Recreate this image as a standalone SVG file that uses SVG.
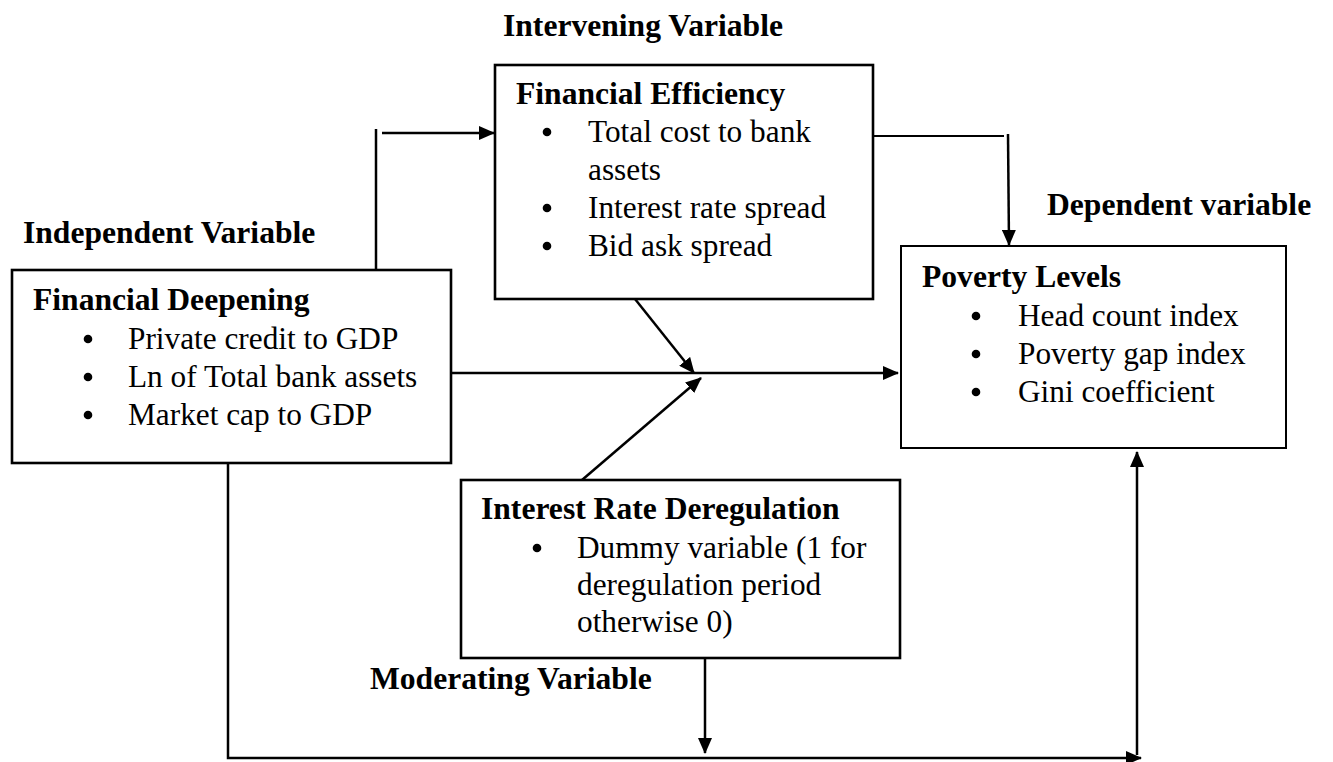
<svg xmlns="http://www.w3.org/2000/svg" width="1333" height="762" viewBox="0 0 1333 762">
<style>
  .box{fill:#fff;stroke:#000;stroke-width:2.6}
  .thin{stroke-width:2}
  .t{font-family:"Liberation Serif","Times New Roman",serif;font-size:31.3px;fill:#000}
  .b{font-family:"Liberation Serif","Times New Roman",serif;font-size:31.6px;font-weight:bold;fill:#000}
  .c{fill:none;stroke:#000;stroke-width:2.5}
  .dot{fill:#000}
</style>
<defs>
  <marker id="ah" markerWidth="16" markerHeight="14" refX="15" refY="7" orient="auto" markerUnits="userSpaceOnUse">
    <path d="M0,0 L16,7 L0,14 Z" fill="#000"/>
  </marker>
</defs>
<rect width="1333" height="762" fill="#fff"/>

<g id="labels">
  <text class="b" x="503" y="36">Intervening Variable</text>
  <text class="b" x="23" y="243">Independent Variable</text>
  <text class="b" x="1047" y="215">Dependent variable</text>
  <text class="b" x="370" y="689">Moderating Variable</text>
</g>

<g id="connectors">
  <line class="c" x1="376" y1="270" x2="376" y2="129"/>
  <line class="c" x1="382" y1="133" x2="494" y2="133" marker-end="url(#ah)"/>
  <line class="c" x1="873" y1="136" x2="1004" y2="136" style="stroke-width:2"/>
  <line class="c" x1="1008" y1="134" x2="1009" y2="245" marker-end="url(#ah)"/>
  <line class="c" x1="446" y1="373" x2="898" y2="373" marker-end="url(#ah)"/>
  <line class="c" x1="635" y1="299" x2="694" y2="373" marker-end="url(#ah)"/>
  <line class="c" x1="582" y1="480" x2="701" y2="378" marker-end="url(#ah)"/>
  <polyline class="c" points="228,463 228,758 1141,758" marker-end="url(#ah)"/>
  <line class="c" x1="1137" y1="755" x2="1137" y2="452" marker-end="url(#ah)"/>
  <line class="c" x1="705" y1="658" x2="705" y2="753" marker-end="url(#ah)"/>
</g>

<g id="financial-deepening">
  <rect class="box" x="12" y="270" width="439" height="193"/>
  <text class="b" x="33" y="310">Financial Deepening</text>
  <circle class="dot" cx="88" cy="339" r="4.3"/>
  <text class="t" x="128" y="349">Private credit to GDP</text>
  <circle class="dot" cx="88" cy="377" r="4.3"/>
  <text class="t" x="128" y="387">Ln of Total bank assets</text>
  <circle class="dot" cx="88" cy="415" r="4.3"/>
  <text class="t" x="128" y="425">Market cap to GDP</text>
</g>

<g id="financial-efficiency">
  <rect class="box" x="495" y="65" width="378" height="234"/>
  <text class="b" x="516" y="104">Financial Efficiency</text>
  <circle class="dot" cx="547" cy="132" r="4.3"/>
  <text class="t" x="588" y="142">Total cost to bank</text>
  <text class="t" x="588" y="180">assets</text>
  <circle class="dot" cx="547" cy="208" r="4.3"/>
  <text class="t" x="588" y="218">Interest rate spread</text>
  <circle class="dot" cx="547" cy="246" r="4.3"/>
  <text class="t" x="588" y="256">Bid ask spread</text>
</g>

<g id="poverty-levels">
  <rect class="box thin" x="901" y="246" width="385" height="202"/>
  <text class="b" x="922" y="287">Poverty Levels</text>
  <circle class="dot" cx="976" cy="316" r="4.3"/>
  <text class="t" x="1018" y="326">Head count index</text>
  <circle class="dot" cx="976" cy="354" r="4.3"/>
  <text class="t" x="1018" y="364">Poverty gap index</text>
  <circle class="dot" cx="976" cy="392" r="4.3"/>
  <text class="t" x="1018" y="402">Gini coefficient</text>
</g>

<g id="interest-rate-deregulation">
  <rect class="box" x="461" y="480" width="439" height="178"/>
  <text class="b" x="481" y="519">Interest Rate Deregulation</text>
  <circle class="dot" cx="537" cy="548" r="4.3"/>
  <text class="t" x="577" y="558">Dummy variable (1 for</text>
  <text class="t" x="577" y="595">deregulation period</text>
  <text class="t" x="577" y="632">otherwise 0)</text>
</g>
</svg>
